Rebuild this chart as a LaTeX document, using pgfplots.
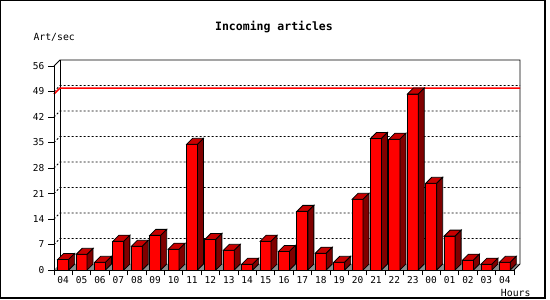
\documentclass[border=0pt]{standalone}
\usepackage{pgfplots}
\usepackage{pgfplotstable}
\pgfplotsset{compat=1.18}
\usepackage{fontspec}
\setmainfont{DejaVu Sans Mono}
\definecolor{frontred}{RGB}{255,0,0}
\definecolor{topred}{RGB}{200,0,0}
\definecolor{sidered}{RGB}{128,0,0}
\definecolor{floorgray}{RGB}{140,140,140}
\pgfdeclareplotmark{box3d}{%
  \pgfmathsetmacro\hh{\barh*204/56}%
  \pgfpathmoveto{\pgfqpoint{-5.5pt}{0pt}}%
  \pgfpathlineto{\pgfqpoint{5.5pt}{0pt}}%
  \pgfpathlineto{\pgfqpoint{11.5pt}{6pt}}%
  \pgfpathlineto{\pgfqpoint{0.5pt}{6pt}}%
  \pgfpathclose
  \pgfsetfillcolor{topred}%
  \pgfusepathqfillstroke
  \pgfpathmoveto{\pgfqpoint{5.5pt}{0pt}}%
  \pgfpathlineto{\pgfqpoint{11.5pt}{6pt}}%
  \pgfpathlineto{\pgfpoint{11.5pt}{6pt-\hh pt}}%
  \pgfpathlineto{\pgfpoint{5.5pt}{-\hh pt}}%
  \pgfpathclose
  \pgfsetfillcolor{sidered}%
  \pgfusepathqfillstroke
}
\pgfplotstableread{
x y
0.5 2.9
1.5 4.3
2.5 2.1
3.5 7.9
4.5 6.5
5.5 9.5
6.5 5.7
7.5 34.5
8.5 8.4
9.5 5.4
10.5 1.6
11.5 7.9
12.5 5.1
13.5 16.1
14.5 4.6
15.5 2.1
16.5 19.4
17.5 36.1
18.5 35.9
19.5 48.3
20.5 23.8
21.5 9.3
22.5 2.7
23.5 1.6
24.5 2.1
}\datatable
\begin{document}
\begin{tikzpicture}[x=1pt,y=1pt]
\useasboundingbox (-54,-30) rectangle (496,270);
% outer frame
\draw[line width=1pt] (-53,-28.5) -- (-53,269.5) -- (491,269.5);
\draw[line width=2pt] (491,270) -- (491,-28.5) -- (-53.5,-28.5);
% titles
\node[font=\bfseries\fontsize{11.5}{12}\selectfont] at (220,243) {Incoming articles};
\node[anchor=west, font=\fontsize{9.8}{10}\selectfont] at (-24,233) {Art/sec};
\node[anchor=east, font=\fontsize{9.8}{10}\selectfont] at (480,-23) {Hours};
% floor
\fill[floorgray] (0,0) -- (460,0) -- (466,6) -- (6,6) -- cycle;
% grid on back wall
\foreach \v in {7,14,...,49}
  \draw[dash pattern=on 2pt off 2pt, line width=0.8pt] (0,{\v*204/56}) -- ++(6,6) -- (466,{\v*204/56+6});
% back frame
\draw[line width=0.8pt] (0,204) -- (6,210) -- (466,210) -- (466,6) -- (460,0);
\draw[line width=0.8pt] (6,6) -- (6,210);
% max line
\draw[red, line width=1.5pt] (0,{48.3*204/56}) -- ++(6,6) -- (466,{48.3*204/56+6});
\begin{axis}[
  scale only axis, width=460pt, height=204pt,
  xmin=0, xmax=25, ymin=0, ymax=56,
  axis lines*=left, axis line style={line width=0.8pt},
  clip=false,
  xtick={0,...,25}, x tick label as interval,
  xticklabels={04,05,06,07,08,09,10,11,12,13,14,15,16,17,18,19,20,21,22,23,00,01,02,03,04},
  ytick={0,7,...,56},
  tick align=outside, major tick length=5.5pt,
  tick style={black, line width=0.8pt},
  ticklabel style={font=\fontsize{9.5}{10}\selectfont},
  /pgf/number format/assume math mode=true,
  yticklabel style={inner sep=0pt, xshift=-4pt},
  xticklabel style={inner sep=0pt, yshift=-0.5pt},
]
\addplot[ybar, bar width=11pt, fill=frontred, draw=black, line width=0.8pt] table[x=x,y=y] {\datatable};
\addplot[scatter, only marks, mark=box3d, scatter/use mapped color={draw=black, fill=topred},
  visualization depends on={rawy \as \barh}, mark options={line width=0.8pt}] table[x=x,y=y] {\datatable};
\end{axis}
\end{tikzpicture}
\end{document}
